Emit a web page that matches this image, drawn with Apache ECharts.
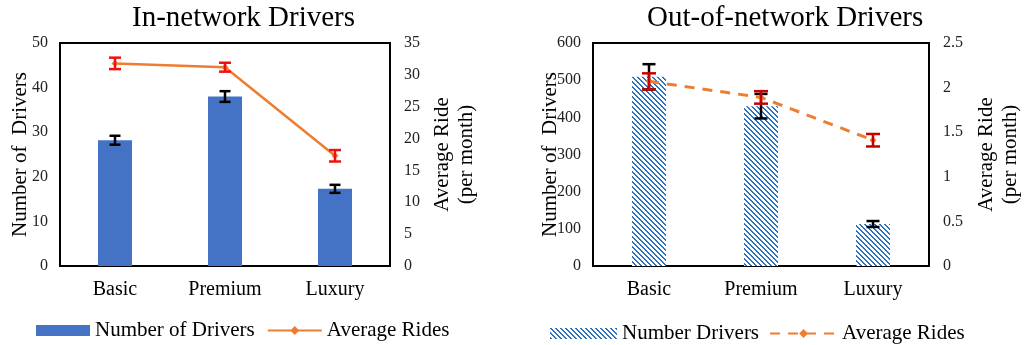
<!DOCTYPE html>
<html>
<head>
<meta charset="utf-8">
<script src="https://cdn.jsdelivr.net/npm/echarts@6/dist/echarts.min.js"></script>
<style>html,body{margin:0;padding:0;background:#fff}#c{width:1025px;height:345px}</style>
</head>
<body>
<div id="c"></div>
<script>
const categories = ['Basic', 'Premium', 'Luxury'];
const inDrivers = [28.2, 38.0, 17.3];
const inDriversErr = [1.0, 1.2, 0.9];
const inRides = [31.8, 31.2, 17.3];
const inRidesErr = [0.9, 0.7, 0.9];
const outDrivers = [509, 430, 113];
const outDriversErr = [34, 33, 8];
const outRides = [2.07, 1.89, 1.41];
const outRidesErr = [0.09, 0.07, 0.07];
const titles = ['In-network Drivers', 'Out-of-network Drivers'];

const FONT = "'Liberation Serif', 'Times New Roman', serif";

function makeHatch() {
  const c = document.createElement('canvas');
  c.width = 5; c.height = 5;
  const ctx = c.getContext('2d');
  ctx.fillStyle = '#ffffff';
  ctx.fillRect(0, 0, 5, 5);
  ctx.fillStyle = '#2F73BE';
  for (let y = 0; y < 5; y++) {
    ctx.fillRect(y, y, 2, 1);
    if (y === 4) ctx.fillRect(0, y, 1, 1);
  }
  return c;
}
const hatch = { image: makeHatch(), repeat: 'repeat' };

function errData(vals, errs) {
  return vals.map((v, i) => [i, v - errs[i], v + errs[i]]);
}
function errRender(cap, color, width) {
  return function (params, api) {
    const x = api.value(0);
    const lo = api.coord([x, api.value(1)]);
    const hi = api.coord([x, api.value(2)]);
    const st = { stroke: color, lineWidth: width };
    return {
      type: 'group',
      children: [
        { type: 'line', shape: { x1: lo[0], y1: lo[1], x2: hi[0], y2: hi[1] }, style: st },
        { type: 'line', shape: { x1: lo[0] - cap, y1: lo[1], x2: lo[0] + cap, y2: lo[1] }, style: st },
        { type: 'line', shape: { x1: hi[0] - cap, y1: hi[1], x2: hi[0] + cap, y2: hi[1] }, style: st }
      ]
    };
  };
}

const axisLine = { show: true, lineStyle: { color: '#000', width: 2 } };
const tickLabel = { color: '#222', fontFamily: FONT, fontSize: 16 };
function xAx(g) {
  return {
    type: 'category', gridIndex: g, data: categories,
    axisLine: axisLine, axisTick: { show: false },
    axisLabel: { color: '#000', fontFamily: FONT, fontSize: 20, margin: 14 }
  };
}
function yAx(g, max, interval, name, pos, gap, margin) {
  return {
    type: 'value', gridIndex: g, min: 0, max: max, interval: interval, position: pos,
    axisLine: axisLine, axisTick: { show: false }, splitLine: { show: false },
    axisLabel: Object.assign({ margin: margin }, tickLabel),
    name: name, nameLocation: 'middle', nameGap: gap, nameRotate: 90, nameMoveOverlap: false,
    nameTextStyle: { color: '#000', fontFamily: FONT, fontSize: 21, lineHeight: 24 }
  };
}

const titleStyle = { fontFamily: FONT, fontSize: 29, fontWeight: 'normal', color: '#000' };
const legendText = { fontFamily: FONT, fontSize: 21, color: '#000' };

const chart = echarts.init(document.getElementById('c'), null, { renderer: 'canvas' });
chart.setOption({
  animation: false,
  backgroundColor: '#fff',
  textStyle: { fontFamily: FONT },
  title: [
    { text: titles[0], left: 132, top: 0, padding: [4, 0], textStyle: titleStyle },
    { text: titles[1], left: 647, top: 0, padding: [4, 0], textStyle: titleStyle }
  ],
  grid: [
    { left: 60, width: 330, top: 43, height: 223, show: true, borderColor: '#000', borderWidth: 2 },
    { left: 593, width: 336, top: 43, height: 223, show: true, borderColor: '#000', borderWidth: 2 }
  ],
  legend: [
    {
      left: 31, top: 315, itemWidth: 54, itemHeight: 11, itemGap: 12,
      data: [{ name: 'Number of Drivers', icon: 'rect' }, 'Average Rides'],
      textStyle: legendText
    },
    {
      left: 545, top: 318, itemWidth: 67, itemHeight: 11, itemGap: 10,
      data: [{ name: 'Number Drivers', icon: 'rect' }, 'Average Rides '],
      textStyle: legendText
    }
  ],
  xAxis: [xAx(0), xAx(1)],
  yAxis: [
    yAx(0, 50, 10, 'Number of  Drivers', 'left', 28, 12),
    yAx(0, 35, 5, 'Average Ride\n(per month)', 'right', 40, 14),
    yAx(1, 600, 100, 'Number of  Drivers', 'left', 31, 12),
    yAx(1, 2.5, 0.5, 'Average Ride\n(per month)', 'right', 45, 14)
  ],
  series: [
    { name: 'Number of Drivers', type: 'bar', xAxisIndex: 0, yAxisIndex: 0, data: inDrivers, barWidth: 34, itemStyle: { color: '#4472C4' }, z: 2 },
    { name: 'errInDrivers', type: 'custom', xAxisIndex: 0, yAxisIndex: 0, data: errData(inDrivers, inDriversErr), renderItem: errRender(5.5, '#000', 2.5), encode: { x: 0, y: [1, 2] }, z: 3 },
    { name: 'Average Rides', type: 'line', xAxisIndex: 0, yAxisIndex: 1, data: inRides, symbol: 'diamond', symbolSize: 7, itemStyle: { color: '#ED7D31' }, lineStyle: { color: '#ED7D31', width: 2.5 }, z: 4 },
    { name: 'errInRides', type: 'custom', xAxisIndex: 0, yAxisIndex: 1, data: errData(inRides, inRidesErr), renderItem: errRender(6, '#F01010', 2.5), encode: { x: 0, y: [1, 2] }, z: 5 },

    { name: 'Number Drivers', type: 'bar', xAxisIndex: 1, yAxisIndex: 2, data: outDrivers, barWidth: 34, itemStyle: { color: hatch }, z: 2 },
    { name: 'errOutDrivers', type: 'custom', xAxisIndex: 1, yAxisIndex: 2, data: errData(outDrivers, outDriversErr), renderItem: errRender(6.5, '#000', 2.5), encode: { x: 0, y: [1, 2] }, z: 3 },
    { name: 'Average Rides ', type: 'line', xAxisIndex: 1, yAxisIndex: 3, data: outRides, symbol: 'diamond', symbolSize: 7, itemStyle: { color: '#ED7D31' }, lineStyle: { color: '#ED7D31', width: 3, type: [10, 8] }, z: 4 },
    { name: 'errOutRides', type: 'custom', xAxisIndex: 1, yAxisIndex: 3, data: errData(outRides, outRidesErr), renderItem: errRender(7, '#C80000', 2.5), encode: { x: 0, y: [1, 2] }, z: 5 }
  ]
});
</script>
</body>
</html>
